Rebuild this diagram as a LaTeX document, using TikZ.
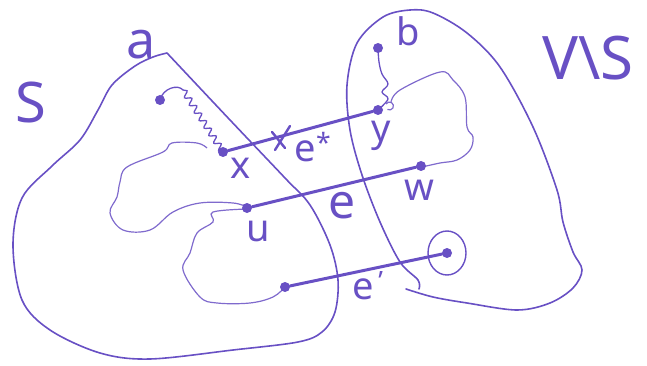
\documentclass[tikz,border=0pt]{standalone}
\usepackage{fontspec}
\setmainfont{Noto Sans}
\usetikzlibrary{decorations.pathmorphing}
\definecolor{ink}{RGB}{104,80,196}
\begin{document}
\begin{tikzpicture}[x=1pt,y=-1pt,
  region/.style={draw=ink, line width=1.6pt, line cap=round, line join=round},
  edgeline/.style={draw=ink, line width=3pt, line cap=round},
  blob/.style={draw=ink!85, line width=1.2pt, line join=round},
  dot/.style={circle, fill=ink, inner sep=0pt, minimum size=10pt},
  lbl/.style={text=ink, inner sep=0pt, font=\fontsize{38}{38}\selectfont},
  biglbl/.style={text=ink, inner sep=0pt, font=\fontsize{56}{56}\selectfont},
  wavy/.style={draw=ink, line width=1.3pt, line cap=round, decorate, decoration={snake, amplitude=3pt, segment length=9pt}}
]
\useasboundingbox (0,0) rectangle (647,366);

% region S
\draw[region] plot[smooth, tension=0.55] coordinates {(167,53) (230,120) (285,178) (310,205) (330,245) (338,280) (335,312) (322,332) (298,342) (233,350) (150,359) (100,353) (50,330) (22,300) (13,245) (22,198) (52,166) (80,140) (98,110) (112,85) (135,66) (153,57) (167,53)};

% region V\S
\draw[region] plot[smooth, tension=0.55] coordinates {(419,289) (418,280) (400,262) (380,222) (362,175) (350,130) (347,85) (357,43) (383,17) (410,10) (433,13) (467,33) (500,67) (533,127) (557,190) (563,222) (573,252) (582,270) (573,288) (550,303) (517,310) (467,303) (433,297) (406,289)};

% inner blobs
\draw[blob] plot[smooth, tension=0.6] coordinates {(207,148) (197,143) (172,143) (163,152) (127,167) (120,182) (117,197) (110,213) (123,230) (150,230) (173,212) (200,203) (233,203) (247,207)};
\draw[blob] plot[smooth, tension=0.6] coordinates {(247,209) (213,212) (213,222) (197,233) (190,253) (183,270) (200,297) (217,303) (250,303) (273,297) (285,287)};
\draw[blob] plot[smooth, tension=0.6] coordinates {(391,102) (400,90) (440,72) (453,80) (465,97) (467,127) (473,137) (470,150) (457,160) (440,163) (422,167)};

% vertices
\coordinate (aV) at (167,53);
\node[dot] (p) at (160,100) {};
\node[dot] (x) at (223,152) {};
\node[dot] (y) at (378,110) {};
\node[dot] (b) at (378,48) {};
\node[dot] (u) at (247,208) {};
\node[dot] (w) at (421,166) {};
\node[dot] (s1) at (285,287) {};
\node[dot] (t1) at (447,253) {};
\draw[region, line width=1.4pt] (t1) ellipse [x radius=19pt, y radius=22pt];

% small hook near y
\draw[blob] (386,104) arc[start angle=150, end angle=-120, radius=4pt];

% wavy paths
\draw[region, line width=1.3pt] (p.center) .. controls (163,88) and (178,84) .. (183,90);
\draw[wavy] (183,90) -- (x.center);
\draw[region, line width=1.3pt] plot[smooth, tension=0.6] coordinates {(378,48) (379,62) (382,74) (388,84) (382,92) (388,99) (378,110)};

% edges
\draw[edgeline] (x) -- (y);
\draw[edgeline] (u) -- (w);
\draw[edgeline] (s1) -- (t1);

% cross mark on e*
\draw[edgeline, line width=2.4pt] (272,132) -- (285,148);
\draw[edgeline, line width=2.4pt] (290,126) -- (275,150);

% labels
\node[lbl, font=\fontsize{52}{52}\selectfont] (la) at (141,45) {a};
\node[biglbl] (lS) at (31,103) {S};
\node[biglbl, font=\fontsize{60}{60}\selectfont] (lVS) at (588,58) {V\textbackslash S};
\node[lbl] (lb) at (408,31) {b};
\node[lbl] (lx) at (241,168) {x};
\node[lbl] (ly) at (381,136) {y};
\node[lbl] (lestar) at (313,147) {e\textsuperscript{*}};
\node[lbl] (lu) at (258,232) {u};
\node[lbl] (lw) at (419,190) {w};
\node[lbl, font=\fontsize{48}{48}\selectfont] (le) at (342,206) {e};
\node[lbl] (lep) at (368,286) {e\textsuperscript{\,\textquoteright}};
\end{tikzpicture}
\end{document}
